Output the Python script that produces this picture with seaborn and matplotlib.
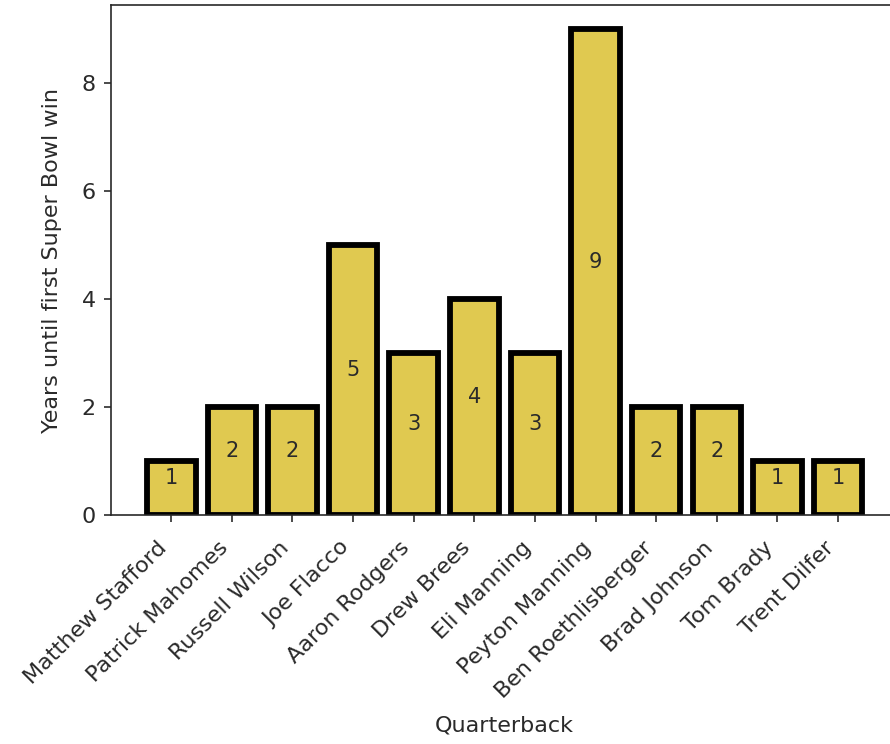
import matplotlib
matplotlib.use("Agg")
import matplotlib.pyplot as plt
import seaborn as sns
import pandas as pd

quarterbacks = [
    "Matthew Stafford", "Patrick Mahomes", "Russell Wilson", "Joe Flacco",
    "Aaron Rodgers", "Drew Brees", "Eli Manning", "Peyton Manning",
    "Ben Roethlisberger", "Brad Johnson", "Tom Brady", "Trent Dilfer",
]
years_to_win = [1, 2, 2, 5, 3, 4, 3, 9, 2, 2, 1, 1]

df = pd.DataFrame({"Quarterback": quarterbacks, "Years": years_to_win})

# picture is an upscaled notebook figure, so scale everything up
scale = 2.06 * 0.72
font_size = 16
text_color = "#2a2a2a"
plt.rcParams.update({
    "font.size": font_size,
    "text.color": text_color,
    "axes.labelcolor": text_color,
    "xtick.color": text_color,
    "ytick.color": text_color,
    "axes.edgecolor": "#262626",
    "axes.linewidth": 0.8 * scale,
    "xtick.major.width": 0.8 * scale,
    "ytick.major.width": 0.8 * scale,
    "xtick.major.size": 3.5 * scale,
    "ytick.major.size": 3.5 * scale,
    "xtick.major.pad": 11,
    "ytick.major.pad": 6,
})

fig = plt.figure(figsize=(8.9, 7.44), dpi=100)
ax = fig.add_axes([0.125, 0.308, 1.009 - 0.125, 0.993 - 0.308])

sns.barplot(
    data=df, x="Quarterback", y="Years", ax=ax,
    color="#e0c950", saturation=1, width=0.8,
    edgecolor="black", linewidth=4.2,
)
labels = ax.bar_label(ax.containers[0], label_type="center", fontsize=15)
for t in labels:
    t.set_va("bottom")

ax.set_xlim(-0.99, 11.99)
ax.set_ylim(0, 9.45)
ax.set_yticks([0, 2, 4, 6, 8])
ax.set_xlabel("Quarterback", labelpad=10)
ax.set_ylabel("Years until first Super Bowl win", labelpad=14)
plt.setp(ax.get_xticklabels(), rotation=45, ha="right")

fig.savefig("out.png", dpi=100)
plt.close()
